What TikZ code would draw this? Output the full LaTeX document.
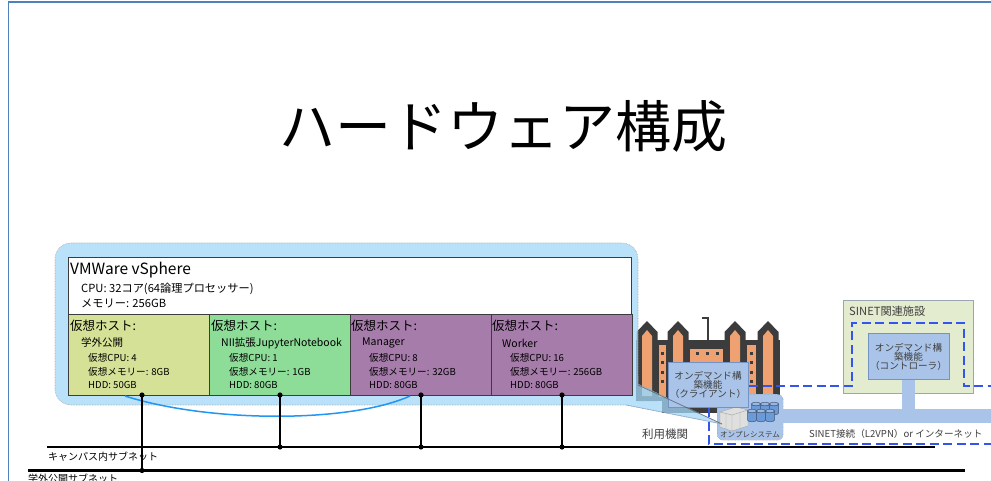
\documentclass[tikz,border=0pt]{standalone}
\usepackage{fontspec}
\setmainfont{Noto Sans CJK JP}
\newcommand{\fsz}[1]{\fontsize{#1}{#1}\selectfont}
\definecolor{frameblue}{HTML}{4F81BD}
\definecolor{callblue}{HTML}{A2D8F7}
\definecolor{hostA}{HTML}{D5E196}
\definecolor{hostB}{HTML}{8DDC98}
\definecolor{hostC}{HTML}{A67CAB}
\definecolor{arcblue}{HTML}{2196F3}
\definecolor{funcfill}{HTML}{A9C4E8}
\definecolor{funcdraw}{HTML}{7393C4}
\definecolor{sitefill}{HTML}{E4ECCF}
\definecolor{sitedraw}{HTML}{9AA6B2}
\definecolor{dashblue}{HTML}{3355EE}
\definecolor{bdark}{HTML}{3C3C3C}
\definecolor{borange}{HTML}{F0A172}
\definecolor{labelgray}{HTML}{404040}
\definecolor{cylblue}{HTML}{6A9AD8}
\tikzset{
  txt/.style={inner sep=0pt, anchor=west, text=black},
  hosthead/.style={txt, font=\fsz{12.5}},
  hostname/.style={txt, font=\fsz{10.5}},
  hostspec/.style={txt, font=\fsz{9.6}},
  hostbox/.style={draw=bdark, line width=0.8pt, anchor=north west, inner sep=0pt,
    minimum width=141pt, minimum height=81pt},
  funcbox/.style={draw=funcdraw, fill=funcfill, line width=1.2pt, inner sep=0pt,
    align=center, font=\fsz{9.6}, text=labelgray},
  netline/.style={line width=2.2pt, black},
  drop/.style={line width=1.8pt, black},
  netdot/.style={black},
  dashnet/.style={dashblue, line width=2.8pt, dash pattern=on 9pt off 4.5pt},
  tower/.style={fill=bdark},
}
\begin{document}
\begin{tikzpicture}[x=1pt,y=-1pt]
\useasboundingbox (0,0) rectangle (991,481);
\fill[white] (0,0) rectangle (991,481);

% slide frame
\draw[frameblue, line width=1.8pt] (8.5,481) -- (8.5,1.8) -- (991,1.8);

% title
\node[inner sep=0pt, font=\fsz{56}] (title) at (503,126) {ハードウェア構成};

% ---------- campus building ----------
\fill[bdark] (636,340) rectangle (780,401);
\fill[bdark] (662,398) rectangle (720,413);
\foreach \cx in {647,678,735,768}{
  \fill[tower] (\cx-10.5,401) -- (\cx-10.5,332) -- (\cx,321) -- (\cx+10.5,332) -- (\cx+10.5,401) -- cycle;
  \fill[borange] (\cx-5,396) -- (\cx-5,336) -- (\cx,330) -- (\cx+5,336) -- (\cx+5,396) -- cycle;
}
\fill[gray!60] (642,388) rectangle (652,396);
\fill[borange] (659,345) rectangle (666,397);
\fill[borange] (690,349) rectangle (723,397);
\fill[borange] (747,345) rectangle (756,397);
\foreach \wy in {353,362,372,381}{
  \fill[bdark] (661,\wy-1.5) rectangle +(3,3);
  \fill[bdark] (750,\wy-1.5) rectangle +(3,3);
}
\foreach \wx in {697,707,717}{\fill[bdark] (\wx-1.5,351.5) rectangle +(3.5,3.5);}
\draw[bdark, line width=2pt] (708,343) -- (708,318) -- (702,318);

% ---------- on-premise system ----------
\node[draw=gray, densely dotted, fill=funcfill, rounded corners=6pt, inner sep=0pt,
  minimum width=66pt, minimum height=46pt, anchor=north west] (onprem) at (717,394) {};
\node[inner sep=0pt, font=\fsz{7.5}, text=labelgray] (onpremlbl) at (750,435) {オンプレシステム};
% server units
\fill[gray!25, draw=gray!70, line width=0.4pt] (720,412) -- (736,407) -- (748,410) -- (748,426) -- (732,431) -- (720,427) -- cycle;
\draw[gray!70, line width=0.4pt] (720,412) -- (732,415) -- (748,410) (732,415) -- (732,431) (726,413.5) -- (726,429) (740,412.5) -- (740,428.5);
% disk stack
\foreach \cx/\cy in {756/404,765/404,774/404,752/411,761/411,770/411}{
  \fill[cylblue, draw=funcdraw!60!black, line width=0.5pt]
    (\cx-4.5,\cy) -- (\cx-4.5,\cy+9) arc[start angle=180, end angle=360, x radius=4.5pt, y radius=1.8pt]
    -- (\cx+4.5,\cy) arc[start angle=0, end angle=-180, x radius=4.5pt, y radius=1.8pt] -- cycle;
  \fill[cylblue!70!white, draw=funcdraw!60!black, line width=0.5pt] (\cx,\cy) ellipse[x radius=4.5pt, y radius=1.8pt];
}

% ---------- vSphere callout ----------
\fill[callblue, fill opacity=0.75, draw=gray!70, densely dotted, line width=0.6pt, rounded corners=16pt]
  (55,405) -- (55,243) -- (638,243) -- (638,392) [sharp corners] -- (638,384) -- (722,424) -- (626,405) [rounded corners=16pt] -- cycle;

% client function box
\node[funcbox, minimum width=80pt, minimum height=45pt, anchor=north west] (client) at (668,362) {};
\node[inner sep=0pt, align=center, font=\fsz{9.6}, text=labelgray] (clienttxt) at (708,385)
  {オンデマンド構\\[-0.5pt]築機能\\[-0.5pt]（クライアント）};
\draw[bdark, opacity=0.55, line width=0.8pt] (638,385) -- (722,424);
\draw[funcdraw, opacity=0.6, line width=0.6pt] (626,405) -- (722,424);

\node[txt, font=\fsz{11.5}, text=labelgray] (userorg) at (642,434) {利用機関};

% ---------- vSphere host ----------
\node[draw=bdark, fill=white, line width=0.8pt, anchor=north west, inner sep=0pt,
  minimum width=563pt, minimum height=57pt] (vs) at (68,257) {};
\node[txt, font=\fsz{15.5}] (vsname) at (70,270) {VMWare vSphere};
\node[txt, font=\fsz{11.2}] (vscpu) at (81,288.5) {CPU: 32コア(64論理プロセッサー)};
\node[txt, font=\fsz{11.2}] (vsmem) at (81,303.5) {メモリー: 256GB};

\node[hostbox, fill=hostA] (h1) at (68,314) {};
\node[hostbox, fill=hostB] (h2) at (209,314) {};
\node[hostbox, fill=hostC] (h3) at (349.5,314) {};
\node[hostbox, fill=hostC] (h4) at (490.5,314) {};

\node[hosthead] (h1a) at (70,326) {仮想ホスト:};
\node[hostname] (h1b) at (81,343) {学外公開};
\node[hostspec] (h1c) at (88,358) {仮想CPU: 4};
\node[hostspec] (h1d) at (88,371.5) {仮想メモリー: 8GB};
\node[hostspec] (h1e) at (88,385) {HDD: 50GB};

\node[hosthead] (h2a) at (211,326) {仮想ホスト:};
\node[hostname] (h2b) at (221,343) {NII拡張JupyterNotebook};
\node[hostspec] (h2c) at (229,358) {仮想CPU: 1};
\node[hostspec] (h2d) at (229,371.5) {仮想メモリー: 1GB};
\node[hostspec] (h2e) at (229,385) {HDD: 80GB};

\node[hosthead] (h3a) at (351,326) {仮想ホスト:};
\node[hostname] (h3b) at (362,343) {Manager};
\node[hostspec] (h3c) at (369,358) {仮想CPU: 8};
\node[hostspec] (h3d) at (369,371.5) {仮想メモリー: 32GB};
\node[hostspec] (h3e) at (369,385) {HDD: 80GB};

\node[hosthead] (h4a) at (492,326) {仮想ホスト:};
\node[hostname] (h4b) at (502,343) {Worker};
\node[hostspec] (h4c) at (510,358) {仮想CPU: 16};
\node[hostspec] (h4d) at (510,371.5) {仮想メモリー: 256GB};
\node[hostspec] (h4e) at (510,385) {HDD: 80GB};

% migration arc between hosts
\draw[arcblue, line width=1.5pt] (125,396) .. controls (210,423) and (350,423) .. (410,396);

% ---------- subnets ----------
\coordinate (campusL) at (47,447);
\coordinate (campusR) at (935,447);
\coordinate (publicL) at (28,470.5);
\coordinate (publicR) at (965,470.5);
\draw[netline] (campusL) -- (campusR);
\draw[netline] (publicL) -- (publicR);
\node[txt, font=\fsz{10}] (campuslbl) at (48,456.5) {キャンパス内サブネット};
\node[txt, font=\fsz{10}, anchor=north west] (publiclbl) at (28,474) {学外公開サブネット};

\coordinate (p1) at (142,395);  \coordinate (q1) at (142,470.5);
\coordinate (p2) at (280,395);  \coordinate (q2) at (280,447);
\coordinate (p3) at (421,395);  \coordinate (q3) at (421,447);
\coordinate (p4) at (562,395);  \coordinate (q4) at (562,447);
\foreach \i in {1,2,3,4}{
  \draw[drop] (p\i) -- (q\i);
  \fill[netdot] (p\i) circle (2.6pt);
  \fill[netdot] (q\i) circle (2.6pt);
}

% ---------- SINET side ----------
\node[draw=sitedraw, fill=sitefill, line width=1pt, anchor=north west, inner sep=0pt,
  minimum width=130pt, minimum height=93pt] (site) at (843,300) {};
\node[txt, font=\fsz{11.2}, text=labelgray] (sitelbl) at (849,311.5) {SINET関連施設};
\node[funcbox, minimum width=81pt, minimum height=46pt, anchor=north west] (ctrl) at (868,333) {};
\node[inner sep=0pt, align=center, font=\fsz{9.6}, text=labelgray] (ctrltxt) at (908.5,357)
  {オンデマンド構\\[-0.5pt]築機能\\[-0.5pt]（コントローラ）};

% SINET link bars
\coordinate (barL) at (onprem.east |- 0,409);
\fill[funcfill] (barL) rectangle (991,423);
\fill[funcfill] (ctrl.south -| 902,0) rectangle (915,409);

\node[txt, font=\fsz{9.6}, text=labelgray] (sinetlbl) at (809,434) {SINET接続（L2VPN）or インターネット};

% dashed network boundary
\coordinate (d1) at (709,408);
\coordinate (d2) at (709,444);
\coordinate (d3) at (991,444);
\draw[dashnet] (d1) -- (d2) -- (d3);
\coordinate (e1) at (client.east |- 0,386);
\draw[dashnet] (e1) -- (852,386) -- (852,323) -- (964,323) -- (964,386) -- (991,386);
\end{tikzpicture}
\end{document}
